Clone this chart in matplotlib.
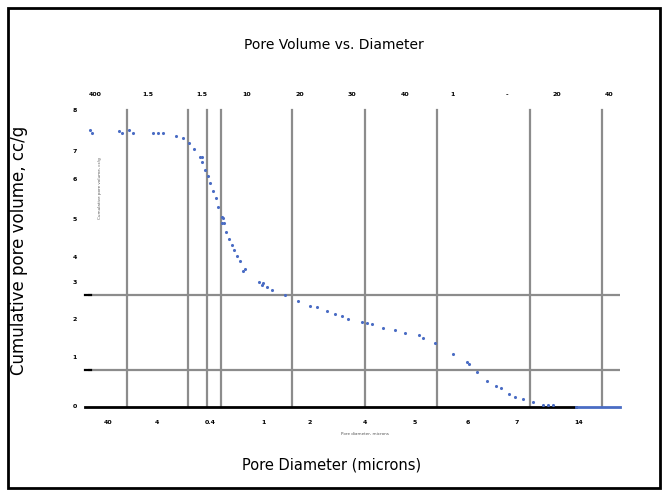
import matplotlib
matplotlib.use("Agg")
import matplotlib.pyplot as plt
from matplotlib.patches import Rectangle

# position along the diameter axis (arbitrary units, 0..10) and cumulative volume
pos = [0.04, 0.08, 0.58, 0.64, 0.77, 0.85, 1.22, 1.32, 1.41, 1.65, 1.79, 1.90, 1.99,
       2.11, 2.14, 2.14, 2.20, 2.26, 2.29, 2.35, 2.41, 2.44, 2.52, 2.54, 2.52, 2.56,
       2.59, 2.65, 2.71, 2.74, 2.80, 2.86, 2.91, 2.95, 3.21, 3.27, 3.29, 3.36, 3.46,
       3.70, 3.95, 4.17, 4.30, 4.49, 4.64, 4.77, 4.89, 5.15, 5.24, 5.34, 5.55, 5.77,
       5.96, 6.22, 6.30, 6.52, 6.86, 7.12, 7.16, 7.31, 7.50, 7.67, 7.76, 7.91, 8.03,
       8.18, 8.36, 8.55, 8.65, 8.74]
vol = [0.888, 0.878, 0.885, 0.878, 0.888, 0.878, 0.878, 0.878, 0.878, 0.869, 0.862,
       0.846, 0.827, 0.801, 0.801, 0.785, 0.760, 0.740, 0.718, 0.692, 0.670, 0.641,
       0.609, 0.606, 0.590, 0.590, 0.561, 0.538, 0.519, 0.503, 0.484, 0.468, 0.436,
       0.442, 0.401, 0.391, 0.397, 0.385, 0.375, 0.359, 0.340, 0.324, 0.321, 0.308,
       0.298, 0.292, 0.282, 0.272, 0.269, 0.266, 0.253, 0.247, 0.237, 0.231, 0.221,
       0.205, 0.170, 0.144, 0.138, 0.112, 0.083, 0.067, 0.061, 0.042, 0.032, 0.026,
       0.016, 0.006, 0.006, 0.006]
tail_pos = [9.17, 10.0]
tail_vol = [0.0, 0.0]

vgrid = [0.73, 1.88, 2.24, 2.50, 3.83, 5.21, 6.56, 8.31, 9.66]
hgrid = [0.119, 0.359]

bottom_pos = [0.38, 1.30, 2.30, 3.29, 4.17, 5.21, 6.15, 7.14, 8.06, 9.23]
bottom_labels = ["40", "4", "0.4", "1", "2", "4", "5", "6", "7", "14"]
top_pos = [0.13, 1.13, 2.14, 2.99, 3.98, 4.96, 5.96, 6.86, 7.87, 8.81, 9.79]
top_labels = ["400", "1.5", "1.5", "10", "20", "30", "40", "1", "-", "20", "40"]
left_vol = [0.0, 0.16, 0.28, 0.40, 0.48, 0.60, 0.73, 0.82, 0.95]
left_labels = ["0", "1", "2", "3", "4", "5", "6", "7", "8"]

blue = "#4a6cc4"
grey = "#8c8c8c"

fig = plt.figure(figsize=(6.68, 4.96), dpi=100)
fig.patches.append(Rectangle((8 / 668, 8 / 496), 652 / 668, 480 / 496,
                             transform=fig.transFigure, fill=False,
                             edgecolor="black", linewidth=2))

ax = fig.add_axes([88 / 668, 89 / 496, 532 / 668, 312 / 496])
ax.set_xlim(0, 10)
ax.set_ylim(0, 1)
for s in ax.spines.values():
    s.set_visible(False)
ax.set_xticks([])
ax.set_yticks([])

for x in vgrid:
    ax.axvline(x, ymin=0, ymax=0.952, color=grey, linewidth=1.6, zorder=1)
for y in hgrid:
    ax.axhline(y, xmin=0, xmax=1, color=grey, linewidth=1.6, zorder=1)
    ax.plot([-0.06, 0.06], [y, y], color="black", linewidth=1.6, zorder=2, clip_on=False)
ax.plot([-0.06, 9.17], [0, 0], color="black", linewidth=2, zorder=2, clip_on=False)
ax.plot(tail_pos, tail_vol, color=blue, linewidth=2, zorder=3, clip_on=False)
ax.scatter(pos, vol, s=5, color=blue, zorder=4, linewidths=0)

for x, lab in zip(bottom_pos, bottom_labels):
    ax.text(x, -0.05, lab, fontsize=4.5, fontweight="bold", ha="center", va="center")
for x, lab in zip(top_pos, top_labels):
    ax.text(x, 1.0, lab, fontsize=4.5, fontweight="bold", ha="center", va="center")
for y, lab in zip(left_vol, left_labels):
    ax.text(-0.25, y, lab, fontsize=4.5, fontweight="bold", ha="center", va="center")
ax.text(5.21, -0.085, "Pore diameter, microns", fontsize=3, color="#555555",
        ha="center", va="center")
ax.text(0.22, 0.70, "Cumulative pore volume, cc/g", fontsize=3, color="#555555",
        ha="center", va="center", rotation=90)

fig.text(334 / 668, 1 - 45 / 496, "Pore Volume vs. Diameter", fontsize=10,
         ha="center", va="center")
fig.text(332 / 668, 1 - 465 / 496, "Pore Diameter (microns)", fontsize=10.5,
         ha="center", va="center")
fig.text(19 / 668, 1 - 250 / 496, "Cumulative pore volume, cc/g", fontsize=12,
         ha="center", va="center", rotation=90)

fig.savefig("out.png", dpi=100)
